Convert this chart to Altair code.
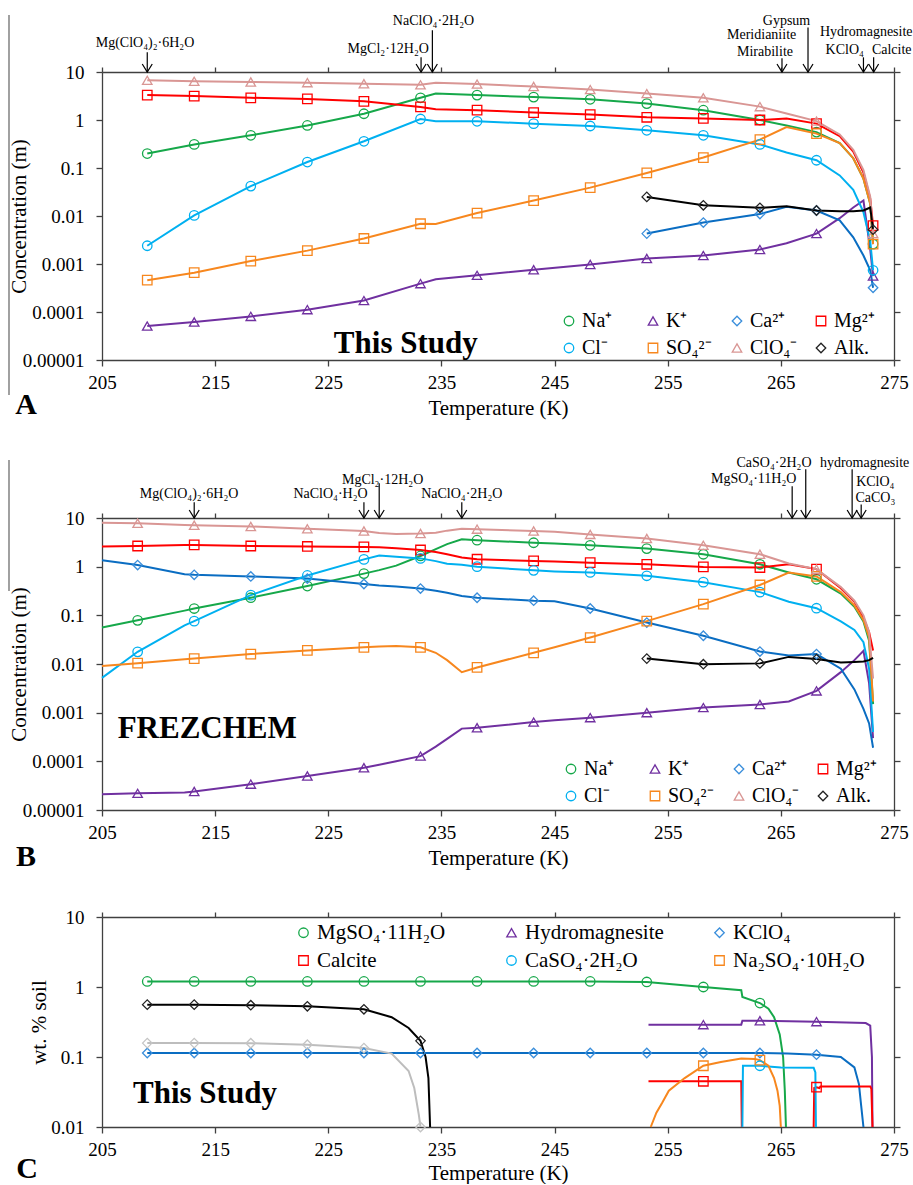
import altair as alt
import pandas as pd

FONT = "Liberation Serif"
X_DOMAIN = [205, 275]
X_TICKS = [205, 215, 225, 235, 245, 255, 265, 275]
Y_TICKS_AB = [0.00001, 0.0001, 0.001, 0.01, 0.1, 1, 10]
Y_TICKS_C = [0.01, 0.1, 1, 10]

ION_NAMES = ["Na⁺", "K⁺", "Ca²⁺", "Mg²⁺", "Cl⁻", "SO₄²⁻", "ClO₄⁻", "Alk."]
ION_LINE_COLORS = ["#16A84A", "#7030A0", "#0A6DC2", "#FF0000", "#00B0F0", "#F7871E", "#D99694", "#000000"]
ION_MARK_COLORS = ["#16A84A", "#7030A0", "#3A8EDB", "#FF0000", "#00B0F0", "#F7871E", "#D99694", "#222222"]
ION_SHAPES = ["circle", "triangle-up", "diamond", "square", "circle", "square", "triangle-up", "diamond"]

# ---------------- Panel A (This Study) ----------------
A_T = [209, 213.15, 218.15, 223.15, 228.15, 233.15, 234.5, 238.15, 243.15, 248.15,
       253.15, 258.15, 263.15, 265.5, 268.15, 270.2, 271.4, 272.3, 272.9, 273.15]
A_MARK_T = [209, 213.15, 218.15, 223.15, 228.15, 233.15, 238.15, 243.15, 248.15,
            253.15, 258.15, 263.15, 268.15, 273.15]
A_NA = [0.2, 0.31, 0.48, 0.77, 1.35, 2.9, 3.55, 3.3, 3.0, 2.7, 2.2, 1.6, 1.0, 0.77, 0.56, 0.33, 0.16, 0.06, 0.018, 0.0026]
A_K = [5.1e-5, 6.2e-5, 8.1e-5, 1.12e-4, 1.73e-4, 3.9e-4, 4.8e-4, 5.8e-4, 7.6e-4, 9.8e-4,
       0.0013, 0.0015, 0.002, 0.0027, 0.0043, 0.009, 0.015, 0.021, 0.002, 0.00056]
A_CA = [None] * 10 + [0.0043, 0.0073, 0.011, 0.0155, 0.013, 0.0081, 0.0036, 0.0015, 0.00074, 0.00032]
A_MG = [3.3, 3.15, 2.9, 2.75, 2.45, 1.87, 1.67, 1.6, 1.43, 1.3, 1.14, 1.08, 1.0, 1.07, 0.84, 0.46, 0.22, 0.08, 0.023, 0.0063]
A_CL = [0.0024, 0.0103, 0.042, 0.133, 0.36, 1.05, 0.94, 0.94, 0.84, 0.75, 0.61, 0.48, 0.31, 0.21, 0.145, 0.07, 0.035, 0.012, 0.003, 0.00074]
A_SO4 = [0.00046, 0.00066, 0.00115, 0.0019, 0.0034, 0.0069, 0.0068, 0.0115, 0.021, 0.039,
         0.079, 0.165, 0.39, 0.71, 0.52, 0.33, 0.16, 0.06, 0.018, 0.0026]
A_CLO4 = [6.7, 6.4, 6.2, 6.0, 5.7, 5.4, 6.0, 5.6, 5.0, 4.3, 3.55, 2.9, 1.9, 1.36, 0.95, 0.5, 0.24, 0.09, 0.025, 0.0043]
A_ALK = [None] * 10 + [0.025, 0.0167, 0.0148, 0.016, 0.013, 0.0125, 0.0125, 0.013, 0.015, 0.0052]

A_ANN_LABEL = ["Mg(ClO₄)₂·6H₂O", "MgCl₂·12H₂O", "NaClO₄·2H₂O", "Gypsum", "Meridianiite",
               "Mirabilite", "Hydromagnesite", "KClO₄", "Calcite"]
A_ANN_T = [208.8, 230.3, 234.3, 265.5, 263.3, 263.6, 272.55, 270.65, 274.8]
A_ANN_V = [39.6, 29.7, 113.7, 113.7, 58, 25.7, 67, 28.3, 28.3]
A_ARROW_T = [209, 233.2, 234.2, 267.4, 265.1, 272.3, 273.2]
A_ARROW_TOP = [25.7, 20.2, 74, 85, 19.3, 20.2, 20.2]
A_TAG = ["This Study"]
A_TAG_T = [231.85]
A_TAG_V = [2.2e-5]

# ---------------- Panel B (FREZCHEM) ----------------
B_T = [205, 208.15, 212.3, 213.15, 218.15, 223.15, 228.15, 229.5, 231, 233.15, 234.5, 235.5,
       236.8, 238.15, 243.15, 245, 248.15, 253.15, 258.15, 263.15, 265.7, 268.15, 270.3,
       271.5, 272.3, 272.8, 273.15]
B_MARK_T = [208.15, 213.15, 218.15, 223.15, 228.15, 233.15, 238.15, 243.15, 248.15,
            253.15, 258.15, 263.15, 268.15]
B_NA = [0.056, 0.079, 0.125, 0.138, 0.23, 0.40, 0.72, 0.85, 1.05, 1.66, 2.3, 2.9, 3.65, 3.5,
        3.1, 3.0, 2.75, 2.35, 1.8, 1.12, 0.76, 0.55, 0.28, 0.15, 0.075, 0.03, 0.0015]
B_K = [2.1e-5, 2.2e-5, 2.3e-5, 2.4e-5, 3.4e-5, 5.0e-5, 7.4e-5, 8.5e-5, 1.0e-4, 1.28e-4, 2.0e-4,
       2.9e-4, 4.7e-4, 4.9e-4, 6.4e-4, 7.0e-4, 7.9e-4, 1.0e-3, 1.27e-3, 1.47e-3, 1.7e-3, 2.8e-3,
       6.8e-3, 0.012, 0.0186, 0.004, 3.0e-4]
B_CA = [1.35, 1.08, 0.7, 0.68, 0.63, 0.57, 0.44, 0.41, 0.39, 0.355, 0.32, 0.29, 0.25, 0.23, 0.2,
        0.195, 0.138, 0.071, 0.038, 0.018, 0.015, 0.016, 0.008, 0.003, 0.0012, 0.0006, 0.00019]
B_MG = [2.6, 2.66, 2.8, 2.8, 2.66, 2.6, 2.55, 2.5, 2.4, 2.2, 2.0, 1.8, 1.54, 1.42, 1.31, 1.28,
        1.21, 1.12, 0.99, 0.96, 1.12, 0.89, 0.36, 0.19, 0.09, 0.045, 0.019]
B_CL = [0.0052, 0.0178, 0.062, 0.076, 0.26, 0.66, 1.41, 1.7, 1.6, 1.48, 1.3, 1.15, 1.1, 1.0, 0.84,
        0.8, 0.76, 0.65, 0.48, 0.30, 0.19, 0.14, 0.075, 0.05, 0.028, 0.008, 0.0004]
B_SO4 = [0.0091, 0.0104, 0.0125, 0.0129, 0.016, 0.019, 0.022, 0.023, 0.0234, 0.022, 0.017, 0.012,
         0.0068, 0.0085, 0.017, 0.022, 0.035, 0.076, 0.17, 0.42, 0.76, 0.63, 0.3, 0.16, 0.08, 0.035, 0.0017]
B_CLO4 = [8.0, 7.8, 7.2, 7.1, 6.7, 6.0, 5.4, 4.9, 4.7, 4.8, 5.0, 5.5, 6.0, 5.9, 5.4, 5.2, 4.6, 3.8,
          2.75, 1.8, 1.16, 0.89, 0.38, 0.2, 0.1, 0.045, 0.005]
B_ALK = [None] * 17 + [0.0129, 0.0099, 0.0103, 0.014, 0.0126, 0.0107, 0.011, 0.0113, 0.012, 0.0134]

B_ANN_LABEL = ["Mg(ClO₄)₂·6H₂O", "NaClO₄·H₂O", "MgCl₂·12H₂O", "NaClO₄·2H₂O", "CaSO₄·2H₂O",
               "MgSO₄·11H₂O", "hydromagnesite", "KClO₄", "CaCO₃"]
B_ANN_T = [212.7, 225.2, 229.8, 236.8, 264.4, 262.6, 272.4, 273.35, 273.35]
B_ANN_V = [30.7, 30.7, 60.3, 30.7, 133, 62.4, 133, 54, 25.4]
B_ARROW_T = [213.15, 228.15, 229.5, 236.8, 267.2, 266.0, 271.3, 272.1]
B_ARROW_TOP = [21, 21, 51.6, 21, 100, 44.8, 100, 19]
B_TAG = ["FREZCHEM"]
B_TAG_T = [214.3]
B_TAG_V = [4.6e-4]

# ---------------- Panel C (wt. % soil) ----------------
C_NAMES = ["MgSO₄·11H₂O", "Hydromagnesite", "KClO₄", "Calcite", "CaSO₄·2H₂O", "Na₂SO₄·10H₂O",
           "Unlabeled 1", "Unlabeled 2"]
C_LINE_COLORS = ["#16A84A", "#7030A0", "#0A6DC2", "#FF0000", "#00B0F0", "#F7871E", "#000000", "#BDBDBD"]
C_MARK_COLORS = ["#16A84A", "#7030A0", "#3A8EDB", "#FF0000", "#00B0F0", "#F7871E", "#222222", "#C4C4C4"]
C_SHAPES = ["circle", "triangle-up", "diamond", "square", "circle", "square", "diamond", "diamond"]
C_MARK_T = [209, 213.15, 218.15, 223.15, 228.15, 233.15, 238.15, 243.15, 248.15,
            253.15, 258.15, 263.15, 268.15]

C_MGSO4_T = [209, 213.15, 218.15, 223.15, 228.15, 233.15, 238.15, 243.15, 248.15, 253.15, 258.15,
             261.5, 261.6, 263.15, 263.9, 264.4, 264.9, 265.2, 265.35, 265.45]
C_MGSO4_V = [1.2, 1.2, 1.2, 1.2, 1.2, 1.2, 1.2, 1.2, 1.2, 1.18, 1.0, 0.9, 0.72, 0.59, 0.49, 0.37,
             0.21, 0.1, 0.033, 0.01]
C_HYDRO_T = [253.3, 258.15, 261.5, 261.6, 263.15, 268.15, 272.5, 272.9, 273.05, 273.1]
C_HYDRO_V = [0.29, 0.29, 0.29, 0.33, 0.33, 0.32, 0.305, 0.28, 0.1, 0.01]
C_KCLO4_T = [209, 213.15, 218.15, 223.15, 228.15, 233.15, 238.15, 243.15, 248.15, 253.15, 258.15,
             263.15, 265.6, 268.15, 270.3, 271.5, 271.9, 272.1, 272.3]
C_KCLO4_V = [0.114] * 12 + [0.112, 0.108, 0.1, 0.071, 0.041, 0.02, 0.01]
C_CALC1_T = [253.3, 258.15, 261.5, 261.55]
C_CALC1_V = [0.045, 0.045, 0.045, 0.01]
C_CALC2_T = [267.9, 267.95, 268.15, 268.4, 268.5, 272.9, 273.0, 273.1]
C_CALC2_V = [0.01, 0.036, 0.037, 0.036, 0.038, 0.038, 0.035, 0.01]
C_GYP_T = [261.6, 261.65, 263.15, 265.0, 267.9, 268.05, 268.1]
C_GYP_V = [0.01, 0.075, 0.075, 0.071, 0.07, 0.06, 0.01]
C_MIRA_T = [253.5, 254.0, 254.5, 255.1, 256.5, 258.15, 259.7, 261.5, 262.7, 263.15, 263.9,
            264.4, 264.7, 264.9, 265.0]
C_MIRA_V = [0.01, 0.016, 0.022, 0.033, 0.05, 0.075, 0.085, 0.095, 0.094, 0.09, 0.075, 0.05,
            0.033, 0.02, 0.01]
C_BLACK_T = [209, 213.15, 218.15, 223.15, 228.15, 230.6, 232.1, 233.15, 233.6, 233.85, 234.0]
C_BLACK_V = [0.56, 0.56, 0.55, 0.53, 0.48, 0.37, 0.26, 0.17, 0.1, 0.05, 0.01]
C_GRAY_T = [209, 213.15, 218.15, 223.15, 228.15, 230.6, 232.1, 232.6, 233.0, 233.15]
C_GRAY_V = [0.158, 0.158, 0.157, 0.15, 0.134, 0.112, 0.063, 0.036, 0.015, 0.01]
C_TAG = ["This Study"]
C_TAG_T = [214.1]
C_TAG_V = [0.0297]

CHEVRON = "M-1,-1.6L0,0L1,-1.6"
YLAB = ("datum.value >= 1 ? format(datum.value, 'd') : "
        "format(datum.value, '.' + round(-log(datum.value) / LN10) + 'f')")
AX_STYLE = dict(labelFont=FONT, titleFont=FONT, labelFontSize=19, titleFontSize=21,
                titleFontWeight="normal", labelColor="black", titleColor="black",
                domainColor="#404040", tickColor="#404040", domainWidth=1.3, tickWidth=1.3,
                grid=False)


def grid_frames(T, series, marks_t):
    rows = []
    for name, vals in series:
        for i, (t, v) in enumerate(zip(T, vals)):
            if v is not None:
                rows.append({"series": name, "key": name, "T": t, "v": v, "idx": i})
    df = pd.DataFrame(rows)
    return df, df[df["T"].isin(marks_t)]


def seg_frames(segs, marks_t):
    rows = []
    for name, key, T, V in segs:
        for i, (t, v) in enumerate(zip(T, V)):
            rows.append({"series": name, "key": key, "T": t, "v": v, "idx": i})
    df = pd.DataFrame(rows)
    return df, df[df["T"].isin(marks_t)]


def make_panel(lines, marks, names, lcolors, mcolors, shapes, leg, ydom, yvals, ytitle,
               ytitle_x, ann, arrows, tag, letter, letter_xy, height, xtitle_pad=5, edge=None):
    def xs():
        return alt.Scale(domain=X_DOMAIN, nice=False, zero=False)

    def ys():
        return alt.Scale(type="log", domain=ydom, nice=False)

    xaxis = alt.Axis(values=X_TICKS, format="d", title="Temperature (K)", tickSize=6,
                     labelPadding=7, titlePadding=xtitle_pad, orient="bottom", labelFlush=False,
                     **AX_STYLE)
    yaxis = alt.Axis(values=yvals, labelExpr=YLAB, title=ytitle, tickSize=6, labelPadding=12,
                     titleX=ytitle_x, titleBaseline="middle", orient="left", **AX_STYLE)
    # stroke scale listed in reverse order so its (legend-less) domain is distinct
    line = alt.Chart(lines).mark_line(strokeWidth=2).encode(
        x=alt.X("T:Q", scale=xs(), axis=xaxis),
        y=alt.Y("v:Q", scale=ys(), axis=yaxis),
        stroke=alt.Stroke("series:N", scale=alt.Scale(domain=names[::-1], range=lcolors[::-1]),
                          legend=None),
        detail="key:N",
        order="idx:Q",
    )
    pts = alt.Chart(marks).mark_point(filled=False, size=90, strokeWidth=1.3, opacity=1).encode(
        x=alt.X("T:Q", scale=xs(), axis=None),
        y=alt.Y("v:Q", scale=ys(), axis=None),
        color=alt.Color("series:N", scale=alt.Scale(domain=names, range=mcolors), legend=leg),
        shape=alt.Shape("series:N", scale=alt.Scale(domain=names, range=shapes), legend=leg),
    )
    layers = [line, pts]
    if arrows is not None:
        rules = alt.Chart(arrows).mark_rule(color="black", strokeWidth=1.2).encode(
            x=alt.X("T:Q", scale=xs(), axis=None),
            y=alt.Y("top:Q", scale=ys(), axis=None),
            y2="bot:Q",
        )
        heads = alt.Chart(arrows).mark_point(shape=CHEVRON, filled=False, size=100, color="black",
                                             strokeWidth=1.2, opacity=1).encode(
            x=alt.X("T:Q", scale=xs(), axis=None),
            y=alt.Y("bot:Q", scale=ys(), axis=None),
        )
        texts = alt.Chart(ann).mark_text(font=FONT, fontSize=14, color="black").encode(
            x=alt.X("T:Q", scale=xs(), axis=None),
            y=alt.Y("v:Q", scale=ys(), axis=None),
            text="label:N",
        )
        layers += [rules, heads, texts]
    tagc = alt.Chart(tag).mark_text(font=FONT, fontSize=31, fontWeight="bold", color="black").encode(
        x=alt.X("T:Q", scale=xs(), axis=None),
        y=alt.Y("v:Q", scale=ys(), axis=None),
        text="label:N",
    )
    let = alt.Chart(pd.DataFrame({"label": [letter]})).mark_text(
        font=FONT, fontSize=30, fontWeight="bold", color="black",
        x=letter_xy[0], y=letter_xy[1]).encode(text="label:N")
    dummy = alt.Chart(pd.DataFrame({"T": [X_DOMAIN[0]], "v": [ydom[1]]})).mark_point(opacity=0).encode(
        x=alt.X("T:Q", scale=xs(),
                axis=alt.Axis(orient="top", values=X_TICKS, labels=False, title=None, tickSize=5,
                              **AX_STYLE)),
        y=alt.Y("v:Q", scale=ys(),
                axis=alt.Axis(orient="right", values=yvals, labels=False, title=None, tickSize=6,
                              **AX_STYLE)),
    )
    layers += [tagc, let]
    if edge is not None:
        # thin page-edge line of the source figure
        layers.append(alt.Chart(pd.DataFrame({"k": [0]})).mark_rule(
            color="#6E6E6E", strokeWidth=1.3).encode(
            x=alt.value(edge[0]), y=alt.value(edge[1]), y2=alt.value(edge[2])))
    layers.append(dummy)
    return alt.layer(*layers).resolve_scale(x="independent", y="independent").properties(
        width=792, height=height)


def ion_legend(x, y):
    return alt.Legend(title=None, orient="none", legendX=x, legendY=y, columns=4,
                      direction="horizontal", gridAlign="all",
                      columnPadding=13, rowPadding=7, labelFont=FONT, labelFontSize=20,
                      labelColor="black", symbolSize=90, symbolStrokeWidth=1.3, labelOffset=3)


# ---- Panel A ----
a_lines, a_marks = grid_frames(A_T, [("Na⁺", A_NA), ("K⁺", A_K), ("Ca²⁺", A_CA), ("Mg²⁺", A_MG),
                                     ("Cl⁻", A_CL), ("SO₄²⁻", A_SO4), ("ClO₄⁻", A_CLO4),
                                     ("Alk.", A_ALK)], A_MARK_T)
a_ann = pd.DataFrame({"label": A_ANN_LABEL, "T": A_ANN_T, "v": A_ANN_V})
a_arr = pd.DataFrame({"T": A_ARROW_T, "top": A_ARROW_TOP, "bot": [10] * len(A_ARROW_T)})
a_tag = pd.DataFrame({"label": A_TAG, "T": A_TAG_T, "v": A_TAG_V})
panel_a = make_panel(a_lines, a_marks, ION_NAMES, ION_LINE_COLORS, ION_MARK_COLORS, ION_SHAPES,
                     ion_legend(457, 239), [0.00001, 10], Y_TICKS_AB, "Concentration (m)", -83,
                     a_ann, a_arr, a_tag, "A", (-76, 333), 288, edge=(-93, -57, 323))

# ---- Panel B ----
b_lines, b_marks = grid_frames(B_T, [("Na⁺", B_NA), ("K⁺", B_K), ("Ca²⁺", B_CA), ("Mg²⁺", B_MG),
                                     ("Cl⁻", B_CL), ("SO₄²⁻", B_SO4), ("ClO₄⁻", B_CLO4),
                                     ("Alk.", B_ALK)], B_MARK_T)
b_ann = pd.DataFrame({"label": B_ANN_LABEL, "T": B_ANN_T, "v": B_ANN_V})
b_arr = pd.DataFrame({"T": B_ARROW_T, "top": B_ARROW_TOP, "bot": [10] * len(B_ARROW_T)})
b_tag = pd.DataFrame({"label": B_TAG, "T": B_TAG_T, "v": B_TAG_V})
panel_b = make_panel(b_lines, b_marks, ION_NAMES, ION_LINE_COLORS, ION_MARK_COLORS, ION_SHAPES,
                     ion_legend(459, 241), [0.00001, 10], Y_TICKS_AB, "Concentration (m)", -83,
                     b_ann, b_arr, b_tag, "B", (-76, 339), 292, edge=(-93, -58, 73))

# ---- Panel C ----
c_lines, c_marks = seg_frames([
    (C_NAMES[0], "mg", C_MGSO4_T, C_MGSO4_V),
    (C_NAMES[1], "hy", C_HYDRO_T, C_HYDRO_V),
    (C_NAMES[2], "kc", C_KCLO4_T, C_KCLO4_V),
    (C_NAMES[3], "ca1", C_CALC1_T, C_CALC1_V),
    (C_NAMES[3], "ca2", C_CALC2_T, C_CALC2_V),
    (C_NAMES[4], "gy", C_GYP_T, C_GYP_V),
    (C_NAMES[5], "mi", C_MIRA_T, C_MIRA_V),
    (C_NAMES[6], "bk", C_BLACK_T, C_BLACK_V),
    (C_NAMES[7], "gr", C_GRAY_T, C_GRAY_V),
], C_MARK_T)
c_tag = pd.DataFrame({"label": C_TAG, "T": C_TAG_T, "v": C_TAG_V})
c_leg = alt.Legend(title=None, orient="none", legendX=191, legendY=5, columns=3,
                   direction="horizontal", gridAlign="all",
                   columnPadding=45, rowPadding=6, labelFont=FONT, labelFontSize=21,
                   labelColor="black", symbolSize=90, symbolStrokeWidth=1.3, labelOffset=3,
                   values=C_NAMES[:6])
panel_c = make_panel(c_lines, c_marks, C_NAMES, C_LINE_COLORS, C_MARK_COLORS, C_SHAPES, c_leg,
                     [0.01, 10], Y_TICKS_C, "wt. % soil", -63, None, None, c_tag, "C",
                     (-75, 252), 210, xtitle_pad=3)

chart = alt.vconcat(panel_a, panel_b, panel_c, spacing=36).resolve_scale(
    color="independent", shape="independent", stroke="independent"
).properties(
    padding={"left": 8, "top": 14, "right": 0, "bottom": 0}
).configure(font=FONT).configure_view(stroke=None).configure_axis(**AX_STYLE).configure_legend(
    labelFont=FONT, titleFont=FONT
).configure_text(font=FONT)

chart.save("out.html", embed_options={"renderer": "svg", "actions": False})
